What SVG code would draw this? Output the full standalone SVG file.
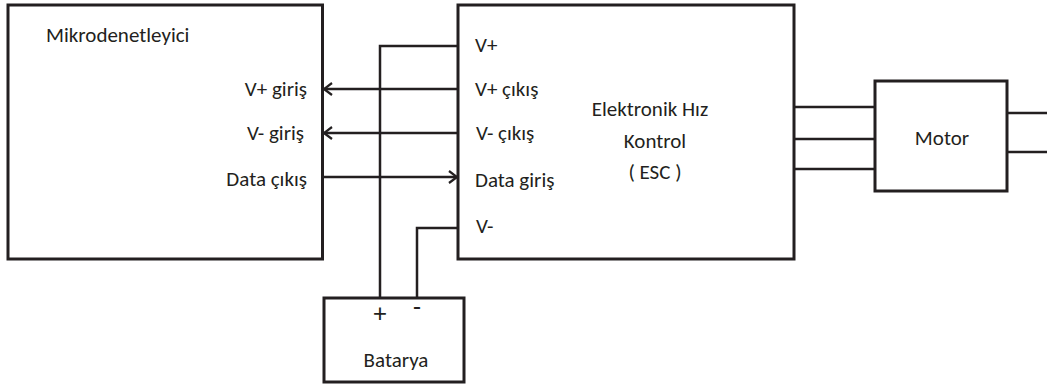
<svg xmlns="http://www.w3.org/2000/svg" width="1047" height="385" viewBox="0 0 1047 385">
<defs>
<style>
.box{fill:#fff;stroke:#231f20;stroke-width:3}
.w{fill:none;stroke:#231f20;stroke-width:2.5}
text{font-family:Carlito,Calibri,Lato,"Open Sans",sans-serif;font-size:21px;fill:#231f20}
.m{text-anchor:middle}
.e{text-anchor:end}
.big{font-size:26px}
</style>
<marker id="ah" viewBox="0 0 10 14" refX="9" refY="7" markerWidth="10" markerHeight="14" markerUnits="userSpaceOnUse" orient="auto">
<path d="M1,1 L9,7 L1,13" fill="none" stroke="#231f20" stroke-width="2.2"/>
</marker>
</defs>
<rect width="1047" height="385" fill="#fff"/>
<g id="connectors">
<path class="w" d="M458,46 H380 V298"/>
<path class="w" d="M458,228 H417 V298"/>
<path class="w" d="M458,89 H324" marker-end="url(#ah)"/>
<path class="w" d="M458,133 H324" marker-end="url(#ah)"/>
<path class="w" d="M322,177 H457" marker-end="url(#ah)"/>
<path class="w" d="M794,107 H875 M794,139 H875 M794,169 H875"/>
<path class="w" d="M1007,113 H1047 M1007,152 H1047"/>
</g>
<g id="mikro">
<rect class="box" x="8" y="5" width="314.5" height="254"/>
<text x="46" y="42">Mikrodenetleyici</text>
<text class="e" x="307" y="96">V+ giriş</text>
<text class="e" x="304" y="140">V- giriş</text>
<text class="e" x="307" y="186">Data çıkış</text>
</g>
<g id="esc">
<rect class="box" x="458" y="5" width="336" height="254"/>
<text x="475" y="52">V+</text>
<text x="475" y="96">V+ çıkış</text>
<text x="476" y="140">V- çıkış</text>
<text x="475" y="187">Data giriş</text>
<text x="476" y="233">V-</text>
<text class="m" x="650" y="116">Elektronik Hız</text>
<text class="m" x="655" y="148">Kontrol</text>
<text class="m" x="655" y="179">( ESC )</text>
</g>
<g id="motor">
<rect class="box" x="875" y="81" width="132" height="110"/>
<text class="m" x="942" y="145">Motor</text>
</g>
<g id="batarya">
<rect class="box" x="324" y="298" width="140" height="84"/>
<text class="m big" x="380" y="322">+</text>
<text class="m big" x="417" y="316">-</text>
<text class="m" x="396" y="367">Batarya</text>
</g>
</svg>
